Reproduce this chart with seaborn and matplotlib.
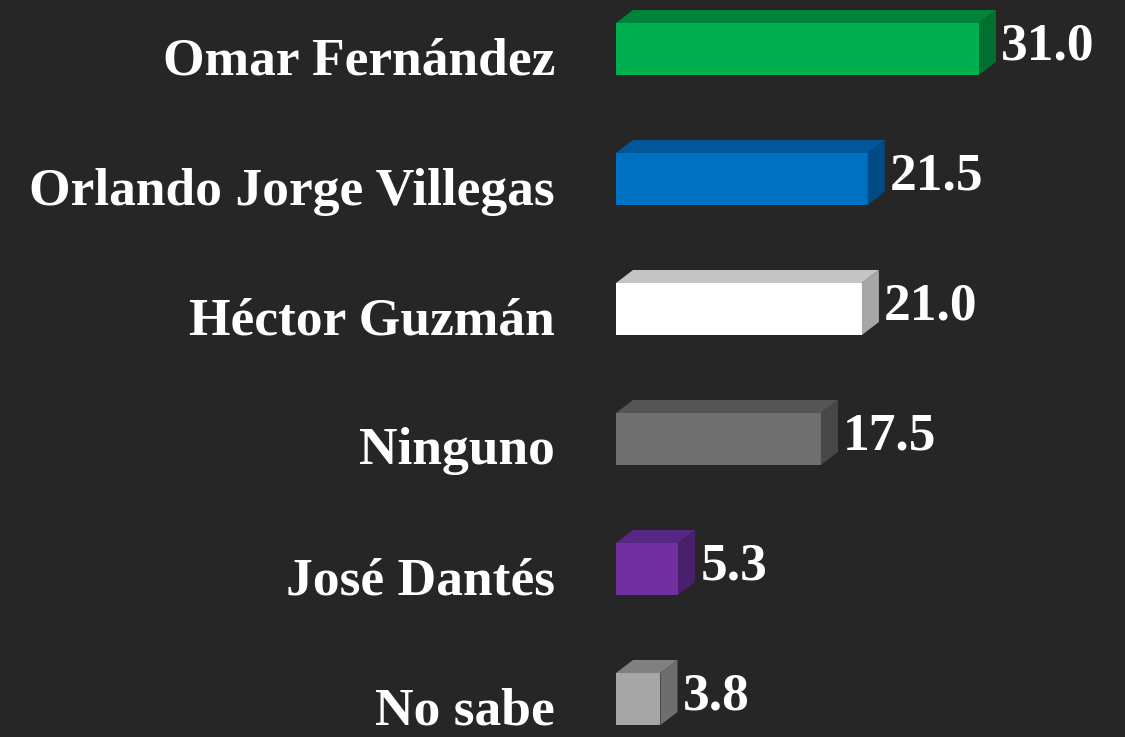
import matplotlib
matplotlib.use("Agg")
import matplotlib.pyplot as plt
import seaborn as sns
import pandas as pd
from matplotlib.patches import Polygon
from matplotlib.transforms import ScaledTranslation

# datos
candidatos = ["Omar Fernández", "Orlando Jorge Villegas", "Héctor Guzmán",
              "Ninguno", "José Dantés", "No sabe"]
valores = [31.0, 21.5, 21.0, 17.5, 5.3, 3.8]

# colores de cada barra (frente, tapa, lado)
frente = ["#00B050", "#0070C0", "#FFFFFF", "#6F6F6F", "#7030A0", "#A6A6A6"]
tapa = ["#00843C", "#00589A", "#C4C4C4", "#555555", "#582684", "#808080"]
lado = ["#006F30", "#004A86", "#A6A6A6", "#484848", "#4A1F6E", "#6E6E6E"]

fondo = "#262626"
df = pd.DataFrame({"candidato": candidatos, "valor": valores})

fig = plt.figure(figsize=(11.25, 7.37), dpi=100, facecolor=fondo)
ax = fig.add_axes([616 / 1125, 0, 509 / 1125, 1])
ax.set_facecolor(fondo)

sns.barplot(data=df, x="valor", y="candidato", hue="candidato",
            palette=frente, legend=False, orient="h", width=0.4,
            saturation=1, ax=ax)

ax.set_xlim(0, 509 / 11.71)
ax.set_ylim(737 / 130 - 49 / 130, -49 / 130)

# profundidad 3D
dx = 17 / 11.71
dy = 13 / 130

for p, ct, cl, v in zip(ax.patches, tapa, lado, valores):
    x0 = p.get_x()
    x1 = x0 + p.get_width()
    yt = p.get_y()
    yb = yt + p.get_height()
    ax.add_patch(Polygon([(x0, yt), (x1, yt), (x1 + dx, yt - dy), (x0 + dx, yt - dy)],
                         closed=True, facecolor=ct, edgecolor="none"))
    ax.add_patch(Polygon([(x1, yt), (x1 + dx, yt - dy), (x1 + dx, yb - dy), (x1, yb)],
                         closed=True, facecolor=cl, edgecolor="none"))
    ax.text(x1 + dx + 0.45, (yt + yb) / 2 - 0.02, f"{v:.1f}", color="white",
            fontsize=38.5, fontweight="bold", family="Liberation Serif",
            va="center", ha="left")

ax.set_xlabel("")
ax.set_ylabel("")
ax.set_xticks([])
ax.tick_params(axis="y", length=0, pad=44)
for lab in ax.get_yticklabels():
    lab.set_color("white")
    lab.set_fontsize(38.5)
    lab.set_fontweight("bold")
    lab.set_family("Liberation Serif")
    lab.set_transform(lab.get_transform() + ScaledTranslation(0, -7 / 100, fig.dpi_scale_trans))
for s in ax.spines.values():
    s.set_visible(False)

fig.savefig("out.png", dpi=100, facecolor=fondo)
